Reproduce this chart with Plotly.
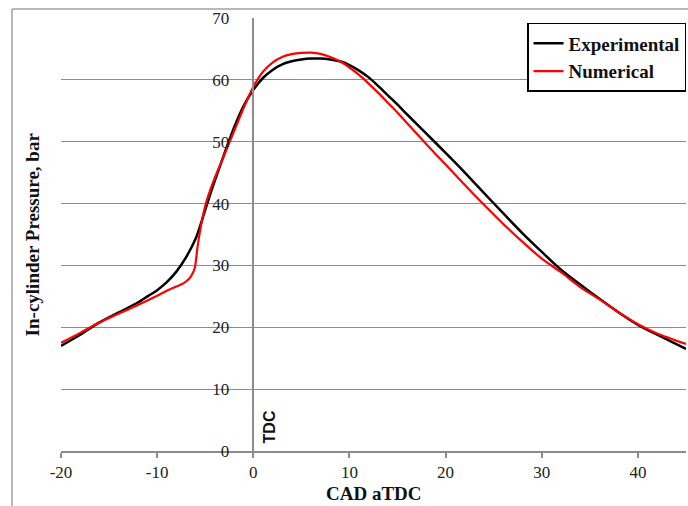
import plotly.graph_objects as go

# Crank angle (deg aTDC) and in-cylinder pressure (bar)
exp_cad = [-20, -18, -16, -14, -12, -11, -10, -9, -8, -7, -6, -5.5, -5, -4.5, -4, -3, -2, -1, 0, 1, 2,
           3, 4, 5, 6, 7, 8, 9, 10, 11, 12, 13, 14, 15, 16, 18, 20, 22, 24, 26, 28, 30, 32, 34, 36,
           38, 40, 42, 45]
exp_p = [17.0, 18.8, 20.8, 22.4, 24.0, 25.0, 26.0, 27.3, 29.0, 31.3, 34.3, 36.5, 39.0, 41.4, 43.7,
         48.1, 52.3, 55.8, 58.4, 60.3, 61.6, 62.5, 63.0, 63.3, 63.45, 63.45, 63.3, 63.0, 62.4, 61.5,
         60.4, 59.0, 57.5, 56.0, 54.4, 51.3, 48.2, 45.0, 41.7, 38.4, 35.2, 32.2, 29.3, 26.9, 24.6,
         22.4, 20.4, 18.8, 16.5]

num_cad = [-20, -18, -16, -14, -12, -10, -9, -8, -7.5, -7, -6.5, -6.1, -5.8, -5.5, -5.2, -4.9, -4.5,
           -4, -3, -2, -1, 0, 1, 2, 3, 4, 5, 6, 7, 8, 9, 10, 11, 12, 13, 14, 15, 16, 18, 20, 22, 24,
           26, 28, 30, 32, 34, 36, 38, 40, 42, 45]
num_p = [17.5, 19.1, 20.8, 22.2, 23.6, 25.1, 25.9, 26.6, 26.9, 27.4, 28.2, 29.5, 33.0, 35.9, 38.3,
         40.2, 42.1, 44.2, 47.9, 51.7, 55.5, 58.9, 61.3, 62.8, 63.7, 64.15, 64.35, 64.4, 64.2, 63.7,
         63.0, 62.0, 60.8, 59.4, 57.9, 56.3, 54.7, 53.0, 49.6, 46.3, 43.0, 39.8, 36.7, 33.8, 31.1,
         28.9, 26.5, 24.5, 22.4, 20.5, 19.0, 17.3]

x_ticks = [-20, -10, 0, 10, 20, 30, 40]
x_tick_text = ["-20", "-10", "0", "10", "20", "30", "40"]
y_ticks = [0, 10, 20, 30, 40, 50, 60, 70]

SERIF = "Liberation Serif, Times New Roman, serif"
GRID = "#8c8c8c"

fig = go.Figure()
fig.add_trace(go.Scatter(x=exp_cad, y=exp_p, mode="lines", name="<b>Experimental</b>",
                         line=dict(color="black", width=2.5, shape="spline", smoothing=0.7)))
fig.add_trace(go.Scatter(x=num_cad, y=num_p, mode="lines", name="<b>Numerical</b>",
                         line=dict(color="#ff0000", width=2.2, shape="spline", smoothing=0.7)))

fig.update_layout(
    width=688, height=506,
    margin=dict(l=61, r=2, t=18, b=55),
    paper_bgcolor="white", plot_bgcolor="white",
    showlegend=True,
    legend=dict(x=1.0, y=0.9885, xanchor="right", yanchor="top",
                bgcolor="white", bordercolor="black", borderwidth=1.5,
                font=dict(family=SERIF, size=19, color="#111111"),
                tracegroupgap=0, itemwidth=30),
    xaxis=dict(range=[-20, 45], tickvals=x_ticks, ticktext=x_tick_text, showgrid=False, zeroline=False,
               showline=True, linecolor=GRID, linewidth=1.5,
               ticks="outside", ticklen=5, tickcolor=GRID, tickwidth=1.5,
               tickfont=dict(family=SERIF, size=17, color="#222222")),
    yaxis=dict(range=[0, 70], tickvals=y_ticks, showgrid=True, gridcolor=GRID, gridwidth=1.2,
               zeroline=False, anchor="free", position=20 / 65,
               showline=True, linecolor=GRID, linewidth=1.5, ticks="",
               ticklabelstandoff=20,
               tickfont=dict(family=SERIF, size=17, color="#222222")),
    annotations=[
        dict(text="<b>CAD aTDC</b>", xref="paper", yref="paper", x=0.5, y=-0.099,
             xanchor="center", yanchor="middle", showarrow=False,
             font=dict(family=SERIF, size=19, color="#111111")),
        dict(text="<b>In-cylinder Pressure, bar</b>", xref="paper", yref="paper", x=-0.045, y=0.5,
             xanchor="center", yanchor="middle", textangle=-90, showarrow=False,
             font=dict(family=SERIF, size=19, color="#111111")),
        dict(text="<b>TDC</b>", xref="x", yref="y", x=1.69, y=3.9,
             xanchor="center", yanchor="middle", textangle=-90, showarrow=False,
             font=dict(family="Liberation Sans, Arial, sans-serif", size=16, color="#111111")),
    ],
    shapes=[
        dict(type="line", xref="paper", yref="paper", x0=-0.0784, x1=1.05, y0=1.0208, y1=1.0208,
             line=dict(color="#a0a0a0", width=1.5)),
        dict(type="line", xref="paper", yref="paper", x0=-0.0784, x1=-0.0784, y0=1.0208, y1=-0.2,
             line=dict(color="#a0a0a0", width=1.5)),
    ],
)

fig.write_html("out.html")
